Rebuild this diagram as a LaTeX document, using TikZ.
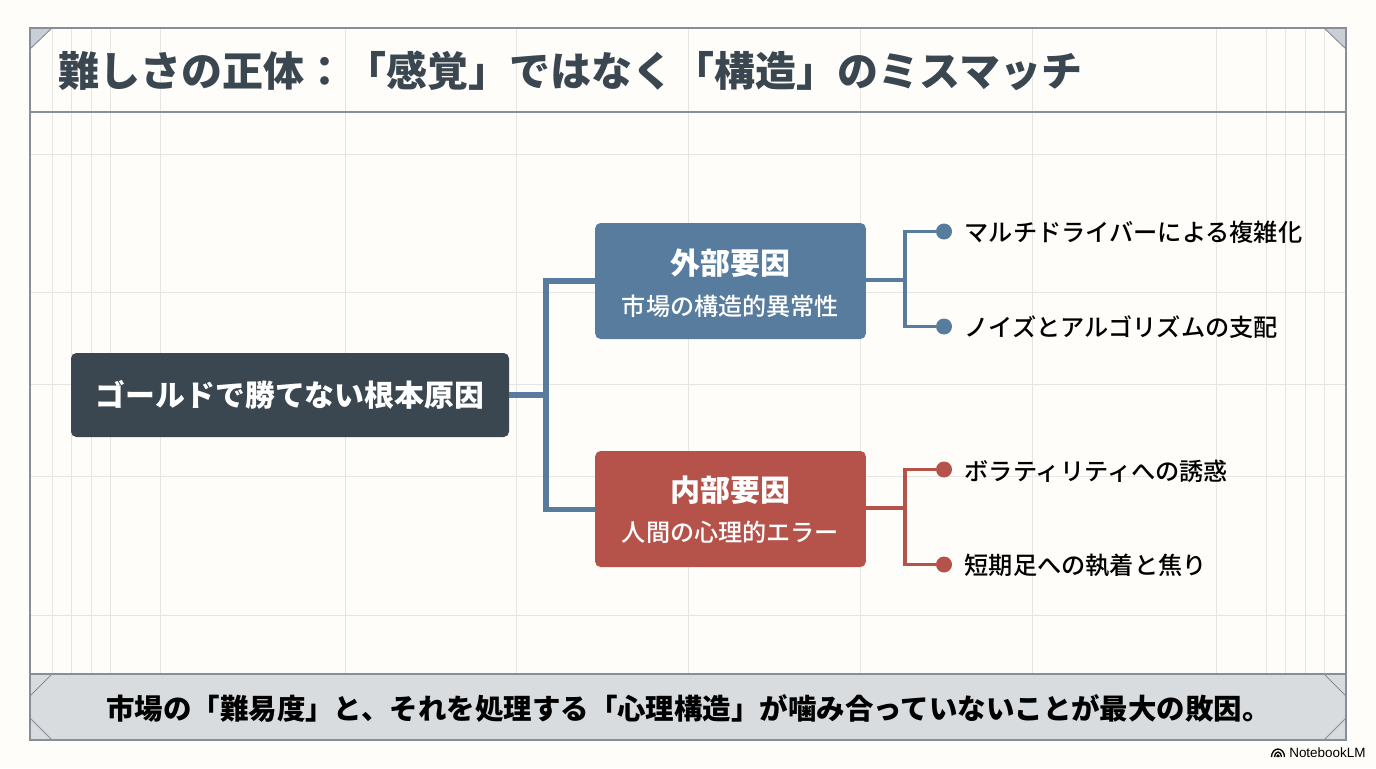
\documentclass[tikz,border=0pt]{standalone}
\usepackage{fontspec}
\setmainfont{Noto Sans CJK JP}[UprightFont=* Medium]
\newfontfamily\latinfont{Liberation Sans}
\definecolor{paper}{HTML}{FEFDF9}
\definecolor{gridc}{HTML}{E5E6E3}
\definecolor{framec}{HTML}{868F97}
\definecolor{dark}{HTML}{3A4650}
\definecolor{bluec}{HTML}{587C9E}
\definecolor{redc}{HTML}{B5534B}
\definecolor{band}{HTML}{D8DCDF}
\definecolor{cornerc}{HTML}{C9CFD5}
\tikzset{
  gridline/.style={gridc,line width=0.75pt},
  frameline/.style={framec,line width=1.5pt},
  corner/.style={fill=cornerc,draw=framec,line width=0.7pt},
  cornerb/.style={draw=framec,line width=0.7pt},
  rootbox/.style={fill=dark,rounded corners=4pt,minimum width=328.5pt,minimum height=63pt,inner sep=0pt,text=white,font=\fontsize{22.4}{27}\selectfont\bfseries},
  catbox/.style={rounded corners=4pt,minimum width=203pt,minimum height=87pt,inner sep=0pt,text=white,align=center},
  trunk/.style={line width=4.4pt},
  branch/.style={line width=2.7pt},
  dotn/.style={circle,inner sep=0pt,minimum size=12pt},
  leaf/.style={anchor=west,inner sep=0pt,text=black,font=\fontsize{18.15}{22}\selectfont},
  cattitle/.style={font=\fontsize{22.5}{26}\selectfont\bfseries},
  catsub/.style={font=\fontsize{18.1}{21}\selectfont},
  logoarc/.style={black,line width=1pt},
}
\begin{document}
\begin{tikzpicture}[x=0.75pt,y=-0.75pt]
\useasboundingbox (0,0) rectangle (1376,768);
\fill[paper] (0,0) rectangle (1376,768);
% grid
\foreach \gx in {52,71,91,110,160,345,516,688,860,1032,1216,1266,1285,1305,1324}
  \draw[gridline] (\gx,28) -- (\gx,674);
\foreach \gy in {154,292,384,476,615}
  \draw[gridline] (30,\gy) -- (1346,\gy);
% bottom band
\fill[band] (30,674) rectangle (1346,740);
% corners
\filldraw[corner] (30,28) -- (52,28) -- (30,49) -- cycle;
\filldraw[corner] (1346,28) -- (1324,28) -- (1346,49) -- cycle;
\draw[cornerb] (52,674) -- (30,696);
\draw[cornerb] (30,718) -- (52,740);
\draw[cornerb] (1324,674) -- (1346,696);
\draw[cornerb] (1346,718) -- (1324,740);
% frame
\draw[frameline] (30,28) rectangle (1346,740);
\draw[frameline] (30,111.5) -- (1346,111.5);
\draw[frameline] (30,674) -- (1346,674);
% title
\node[anchor=west,inner sep=0pt,text=dark,font=\fontsize{30.75}{36}\selectfont\bfseries] (title) at (58,71) {難しさの正体：「感覚」ではなく「構造」のミスマッチ};
\node[inner sep=0pt,text=black,font=\fontsize{21.35}{26}\selectfont\bfseries] (foot) at (688.5,708) {市場の「難易度」と、それを処理する「心理構造」が噛み合っていないことが最大の敗因。};
% nodes
\node[rootbox] (root) at (290,395) {ゴールドで勝てない根本原因};
\node[catbox,fill=bluec] (ext) at (730.5,281) {};
\node[cattitle,text=white,inner sep=0pt] (extt) at (730.5,263) {外部要因};
\node[catsub,text=white,inner sep=0pt] (exts) at (730.5,306) {市場の構造的異常性};
\node[catbox,fill=redc] (int) at (730.5,509) {};
\node[cattitle,text=white,inner sep=0pt] (intt) at (730.5,490) {内部要因};
\node[catsub,text=white,inner sep=0pt] (ints) at (730.5,532) {人間の心理的エラー};
\coordinate (jr) at (546,395);
% root connectors
\draw[trunk,bluec] (root.east) -- (jr);
\draw[trunk,bluec,line cap=butt] (ext.west |- 0,281) -- (546,281) -- (546,509.5) -- (int.west |- 0,509.5);
% dots
\node[dotn,fill=bluec] (d1) at (944,231.5) {};
\node[dotn,fill=bluec] (d2) at (944,326.5) {};
\node[dotn,fill=redc] (d3) at (944,469.5) {};
\node[dotn,fill=redc] (d4) at (944,564.5) {};
\coordinate (jb) at (905,280);
\coordinate (jd) at (905,508);
\draw[branch,bluec] (ext.east |- jb) -- (jb);
\draw[branch,bluec] (d1) -| (jb) |- (d2);
\draw[branch,redc] (int.east |- jd) -- (jd);
\draw[branch,redc] (d3) -| (jd) |- (d4);
% leaves
\node[leaf] (l1) at (964.5,232) {マルチドライバーによる複雑化};
\node[leaf] (l2) at (964.5,327) {ノイズとアルゴリズムの支配};
\node[leaf] (l3) at (964.5,471) {ボラティリティへの誘惑};
\node[leaf] (l4) at (964.5,565.5) {短期足への執着と焦り};
% logo
\node[anchor=west,inner sep=0pt,text=black,font=\latinfont\fontsize{10.1}{11}\selectfont] (nlm) at (1289,753) {NotebookLM};
\draw[logoarc] (1271.5,757) arc[start angle=180,end angle=360,x radius=6.5,y radius=8];
\draw[logoarc] (1274.5,757) arc[start angle=180,end angle=360,x radius=3.5,y radius=5];
\draw[logoarc] (1277,757) arc[start angle=180,end angle=360,x radius=1,y radius=2];
\end{tikzpicture}
\end{document}
